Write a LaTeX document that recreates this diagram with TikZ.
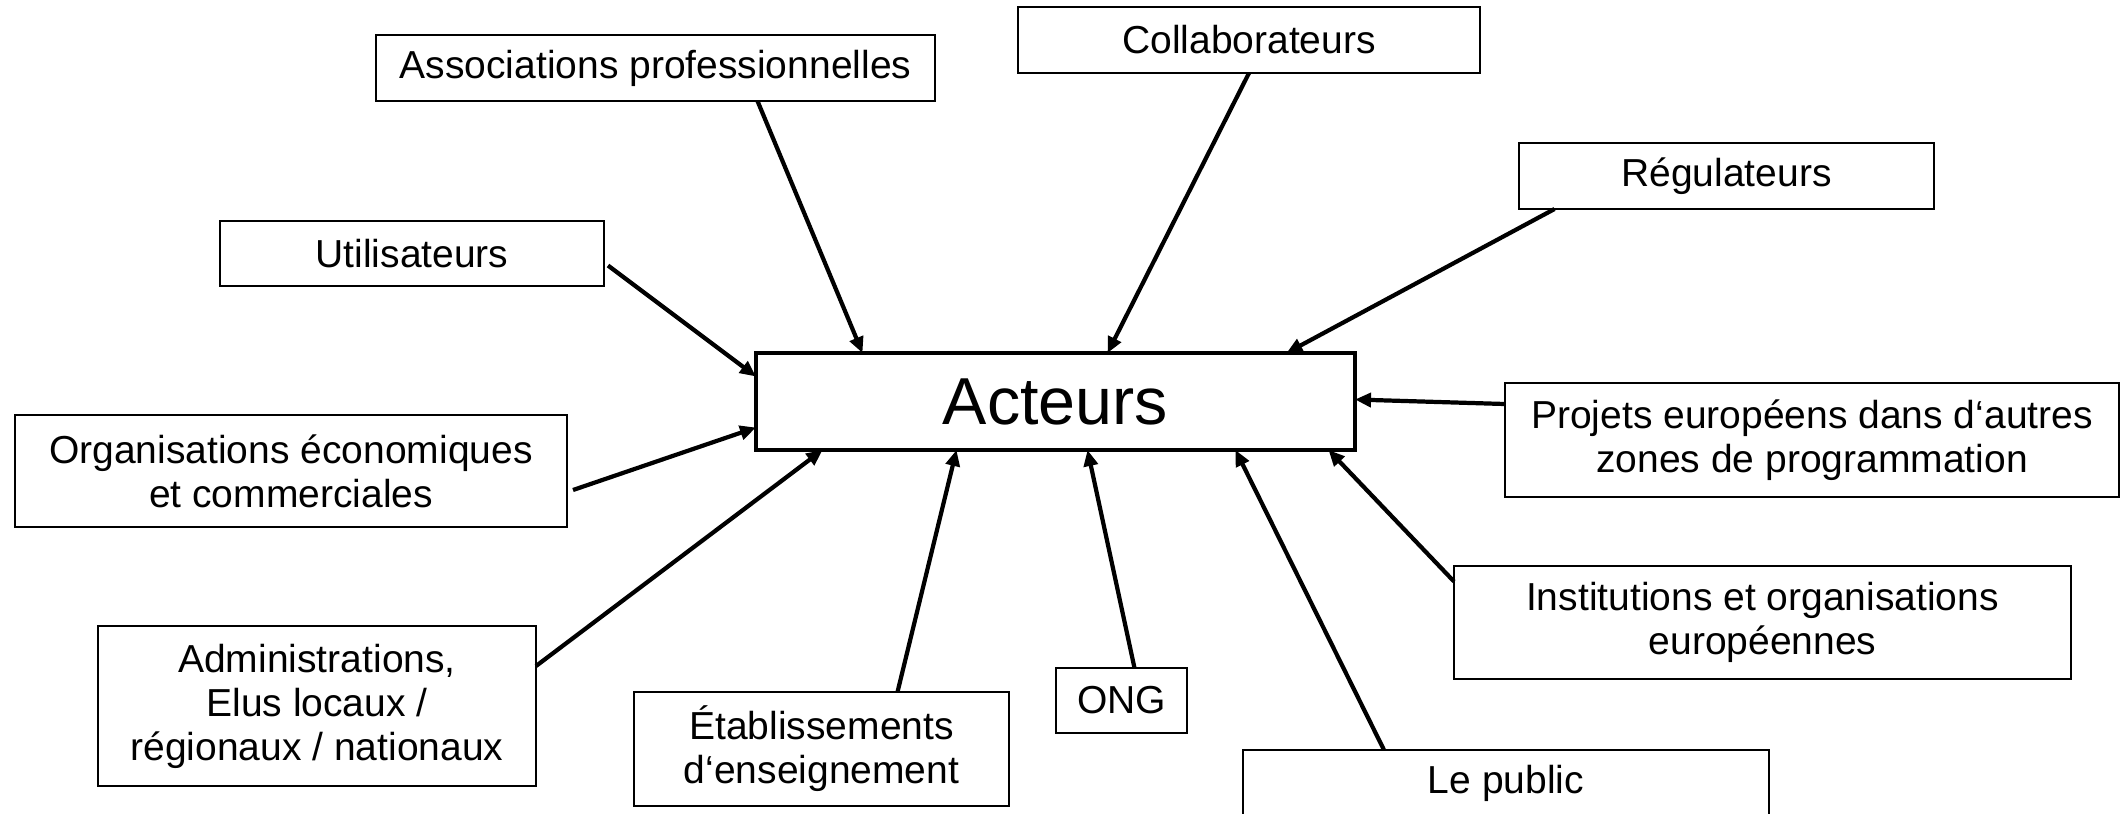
\documentclass[tikz,border=0pt]{standalone}
\usepackage{fontspec}
\setmainfont{Liberation Sans}
\usetikzlibrary{arrows.meta,positioning}

\begin{document}
\begin{tikzpicture}[
  actor/.style={draw=black,line width=0.6pt,inner sep=0pt,outer sep=0pt,
                minimum height=0.66cm,
                font=\fontsize{11.1}{12.5}\selectfont,align=center},
  hub/.style={draw=black,line width=0.9pt,inner sep=0pt,outer sep=0pt,
              minimum width=5.99cm,minimum height=0.97cm,
              font=\fontsize{18.9}{22}\selectfont},
  arrow/.style={-{Triangle[length=0.16cm,width=0.14cm]},line width=1.2pt}
]
\useasboundingbox (0,0) rectangle (21.22,-8.13);
\clip (0,0) rectangle (21.22,-8.13);

\node[actor,minimum width=5.59cm] (assoc)  at (6.555,-0.68)  {Associations professionnelles};
\node[actor,minimum width=4.62cm] (collab) at (12.49,-0.40)  {Collaborateurs};
\node[actor,minimum width=4.15cm] (regul)  at (17.265,-1.76) {Régulateurs};
\node[actor,minimum width=3.84cm,minimum height=0.65cm] (util) at (4.12,-2.535) {Utilisateurs};
\node[hub] (acteurs) at (10.555,-4.015) {Acteurs};
\node[actor,minimum width=6.14cm,minimum height=1.14cm] (projets) at (18.12,-4.40)
  {Projets européens dans d‘autres\\zones de programmation};
\node[actor,minimum width=5.52cm,minimum height=1.12cm] (orgeco) at (2.91,-4.71)
  {Organisations économiques\\et commerciales};
\node[actor,minimum width=6.17cm,minimum height=1.13cm] (instit) at (17.625,-6.225)
  {Institutions et organisations\\européennes};
\node[actor,minimum width=4.38cm,minimum height=1.60cm] (admin) at (3.17,-7.06)
  {Administrations,\\Elus locaux /\\régionaux / nationaux};
\node[actor,minimum width=3.75cm,minimum height=1.14cm] (etab) at (8.215,-7.49)
  {Établissements\\d‘enseignement};
\node[actor,minimum width=1.31cm,minimum height=0.65cm] (ong) at (11.215,-7.005) {ONG};
\node[actor,minimum width=5.26cm] (public) at (15.06,-7.83) {Le public};

\draw[arrow] ([xshift=1.02cm]assoc.south) -- ([xshift=-1.93cm]acteurs.north);
\draw[arrow] ([xshift=0.04cm,yshift=-0.12cm]util.east) -- ([yshift=0.25cm]acteurs.west);
\draw[arrow] (collab.south) -- ([xshift=0.52cm]acteurs.north);
\draw[arrow] ([xshift=-1.72cm]regul.south) -- ([xshift=2.31cm]acteurs.north);
\draw[arrow] ([yshift=0.36cm]projets.west) -- ([yshift=0.02cm]acteurs.east);
\draw[arrow] ([xshift=0.06cm,yshift=-0.19cm]orgeco.east) -- ([yshift=-0.26cm]acteurs.west);
\draw[arrow] ([yshift=0.40cm]admin.east) -- ([xshift=-2.33cm]acteurs.south);
\draw[arrow] ([xshift=0.76cm]etab.north) -- ([xshift=-0.99cm]acteurs.south);
\draw[arrow] ([xshift=0.13cm]ong.north) -- ([xshift=0.32cm]acteurs.south);
\draw[arrow] ([xshift=-1.22cm]public.north) -- ([xshift=1.80cm]acteurs.south);
\draw[arrow] ([yshift=0.41cm]instit.west) -- ([xshift=2.73cm]acteurs.south);
\end{tikzpicture}
\end{document}
